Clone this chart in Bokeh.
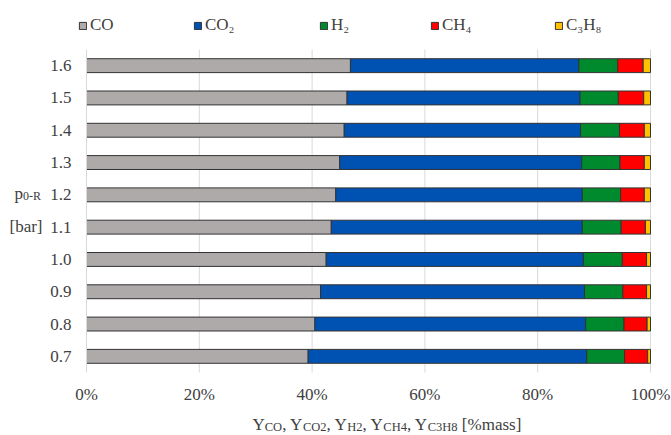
from bokeh.plotting import figure
from bokeh.models import (Range1d, FixedTicker, CustomJSTickFormatter,
                          Legend, LegendItem, Label, ColumnDataSource)
from bokeh.embed import file_html
from bokeh.resources import INLINE

# ---------------- data ----------------
pressures = ["0.7", "0.8", "0.9", "1.0", "1.1", "1.2", "1.3", "1.4", "1.5", "1.6"]
y_co = [39.3, 40.5, 41.5, 42.5, 43.4, 44.2, 44.9, 45.7, 46.2, 46.8]
y_co2 = [49.4, 48.0, 46.8, 45.6, 44.5, 43.7, 42.9, 41.9, 41.3, 40.5]
y_h2 = [6.7, 6.8, 6.8, 6.9, 6.9, 6.8, 6.8, 6.9, 6.8, 6.9]
y_ch4 = [4.1, 4.1, 4.2, 4.3, 4.3, 4.2, 4.3, 4.4, 4.5, 4.5]
y_c3h8 = [0.5, 0.6, 0.7, 0.7, 0.9, 1.1, 1.1, 1.1, 1.2, 1.3]
series = ["CO", "CO2", "H2", "CH4", "C3H8"]
legend_labels = ["CO", "CO\u2082", "H\u2082", "CH\u2084", "C\u2083H\u2088"]
colors = ["#AEAAAA", "#0052B2", "#008A2E", "#FF0000", "#FFC000"]
x_ticks = [0, 20, 40, 60, 80, 100]

# ---------------- layout constants (pixels) ----------------
FONT = "Liberation Serif"
TXT = "#404040"
W, H = 671, 435
CH_L, CH_R, CH_T, CH_B = 86, 650, 49, 372   # chart (plot area) box in canvas pixels

n = len(pressures)
ypos = list(range(n))
slot = (CH_B - CH_T) / n
pxx = (CH_R - CH_L) / 100.0
x_start = -CH_L / pxx
x_end = 100 + (W - CH_R) / pxx
y_start = -0.5 - (H - CH_B) / slot
y_end = n - 0.5 + CH_T / slot

src = ColumnDataSource(dict(y=ypos, CO=y_co, CO2=y_co2, H2=y_h2, CH4=y_ch4, C3H8=y_c3h8))

p = figure(width=W, height=H, x_range=Range1d(x_start, x_end), y_range=Range1d(y_start, y_end),
           output_backend="svg", toolbar_location=None,
           min_border_left=0, min_border_right=0, min_border_top=0, min_border_bottom=0)
p.outline_line_color = None
p.background_fill_color = "white"
p.xgrid.visible = False
p.ygrid.visible = False

# vertical gridlines limited to the plot area
p.segment(x0=x_ticks[1:], y0=[-0.5] * (len(x_ticks) - 1), x1=x_ticks[1:],
          y1=[n - 0.5] * (len(x_ticks) - 1), line_color="#D9D9D9", line_width=1)

rs = p.hbar_stack(series, y="y", height=0.43, fill_color=colors, line_color="#333333",
                  line_width=1, source=src)

xa = p.xaxis[0]
xa.fixed_location = -0.5
xa.bounds = (0, 100)
xa.ticker = FixedTicker(ticks=x_ticks)
xa.formatter = CustomJSTickFormatter(code="return tick + '%';")
xa.axis_line_color = None
xa.major_tick_line_color = None
xa.minor_tick_line_color = None
xa.major_tick_out = 0
xa.major_tick_in = 0
xa.major_label_standoff = 12

ya = p.yaxis[0]
ya.fixed_location = 0
ya.bounds = (-0.5, n - 0.5)
ya.ticker = FixedTicker(ticks=ypos)
ya.major_label_overrides = {i: lab for i, lab in zip(ypos, pressures)}
ya.axis_line_color = "#D9D9D9"
ya.major_tick_line_color = None
ya.minor_tick_line_color = None
ya.major_tick_out = 0
ya.major_tick_in = 0
ya.major_label_standoff = 15
for ax in (xa, ya):
    ax.major_label_text_font = FONT
    ax.major_label_text_font_size = "17px"
    ax.major_label_text_color = TXT

# ---------------- legend (one entry per position) ----------------
leg_x = [78, 193, 319, 430, 554]
for r, lab, lx in zip(rs, legend_labels, leg_x):
    leg = Legend(items=[LegendItem(label=lab, renderers=[r])], location=(lx, H - 35),
                 orientation="horizontal", padding=0, margin=0, border_line_color=None,
                 background_fill_alpha=0, glyph_width=9, glyph_height=9, label_standoff=3,
                 label_height=20, label_text_font=FONT, label_text_font_size="17px",
                 label_text_color=TXT)
    p.add_layout(leg, "center")


# ---------------- axis titles with subscripts ----------------
def put(text, x, y_top, size):
    p.add_layout(Label(x=x, y=H - y_top, x_units="screen", y_units="screen", text=text,
                       text_font=FONT, text_font_size=f"{size}px", text_color=TXT,
                       text_baseline="alphabetic", text_align="left"))


EM = {"Y": 0.722, ",": 0.25, " ": 0.25, "C": 0.667, "O": 0.722, "H": 0.722, "2": 0.5,
      "3": 0.5, "4": 0.5, "8": 0.5, "[": 0.333, "%": 0.833, "m": 0.778, "a": 0.444,
      "s": 0.389, "]": 0.333}


def width(t, size):
    return sum(EM.get(c, 0.5) for c in t) * size


pieces = [("Y", 0), ("CO", 1), (", Y", 0), ("CO2", 1), (", Y", 0), ("H2", 1), (", Y", 0),
          ("CH4", 1), (", Y", 0), ("C3H8", 1), (" [%mass]", 0)]
x = 252.0
for t, sub in pieces:
    size = 12.5 if sub else 17
    lead = len(t) - len(t.lstrip(" "))
    put(t.lstrip(" "), x + width(" " * lead, size), 426 if sub else 424, size)
    x += width(t, size)

# y title
put("p", 14, 193, 17)
put("0-R", 22.5, 195, 12)
put("[bar]", 9, 226, 17)

open("out.html", "w").write(file_html(p, INLINE))
